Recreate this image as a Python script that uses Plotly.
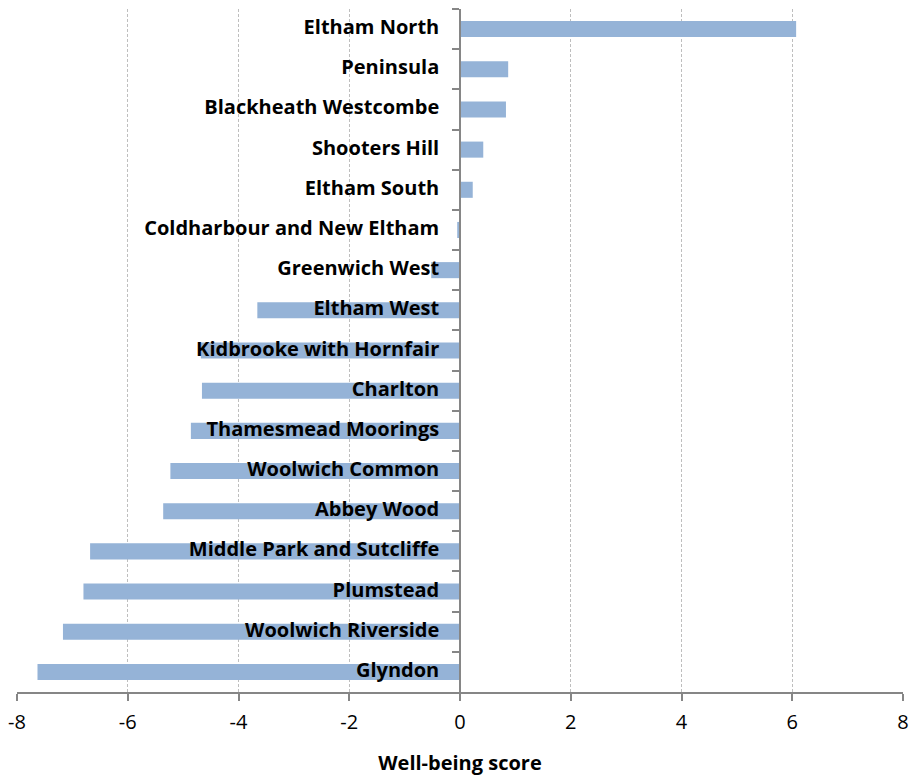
import plotly.graph_objects as go

# Ward well-being scores, listed top to bottom
wards = [
    "Eltham North", "Peninsula", "Blackheath Westcombe", "Shooters Hill",
    "Eltham South", "Coldharbour and New Eltham", "Greenwich West",
    "Eltham West", "Kidbrooke with Hornfair", "Charlton",
    "Thamesmead Moorings", "Woolwich Common", "Abbey Wood",
    "Middle Park and Sutcliffe", "Plumstead", "Woolwich Riverside", "Glyndon",
]
scores = [
    6.07, 0.87, 0.83, 0.42, 0.23, -0.05, -0.52, -3.66, -4.68, -4.66,
    -4.86, -5.23, -5.36, -6.68, -6.80, -7.17, -7.63,
]
x_ticks = [-8, -6, -4, -2, 0, 2, 4, 6, 8]

FONT = "'Open Sans', sans-serif"
BAR_COLOR = "#95B3D7"
AXIS_COLOR = "#868686"

fig = go.Figure()

fig.add_trace(go.Bar(
    y=wards, x=scores, orientation="h",
    marker=dict(color=BAR_COLOR, line=dict(width=0)),
    width=0.4, hoverinfo="x+y",
))

# Ward names sit just left of the zero axis, drawn over the bars
fig.add_trace(go.Scatter(
    y=wards, x=[0] * len(wards), mode="text",
    text=wards,
    texttemplate="<b>%{text}</b>    ",
    textposition="middle left",
    textfont=dict(family=FONT, size=20, color="#000000"),
    hoverinfo="skip", cliponaxis=False,
))

fig.update_layout(
    width=911, height=778,
    margin=dict(l=17, r=8, t=9, b=86),
    paper_bgcolor="white", plot_bgcolor="white",
    showlegend=False,
    font=dict(family=FONT, color="#000000"),
    xaxis=dict(
        range=[-8, 8], tickvals=x_ticks,
        ticktext=[str(v) for v in x_ticks],
        tickfont=dict(family=FONT, size=20, color="#000000"),
        ticklabelstandoff=4,
        showgrid=True, gridcolor="#BEBEBE", griddash="3px,2px", gridwidth=1,
        zeroline=False, automargin=False,
        showline=True, linecolor=AXIS_COLOR, linewidth=1.5,
        ticks="outside", ticklen=7, tickcolor=AXIS_COLOR, tickwidth=1.5,
        title=dict(text="<b>Well-being score</b>",
                   font=dict(family=FONT, size=20, color="#000000"),
                   standoff=22),
    ),
    yaxis=dict(
        type="category", range=[len(wards) - 0.5, -0.5],
        anchor="free", position=0.5, automargin=False,
        showticklabels=False, showgrid=False, zeroline=False,
        showline=True, linecolor=AXIS_COLOR, linewidth=1.5,
        ticks="outside", tickson="boundaries", ticklen=7,
        tickcolor=AXIS_COLOR, tickwidth=1.5,
        layer="above traces",
    ),
)

fig.write_html("out.html")
